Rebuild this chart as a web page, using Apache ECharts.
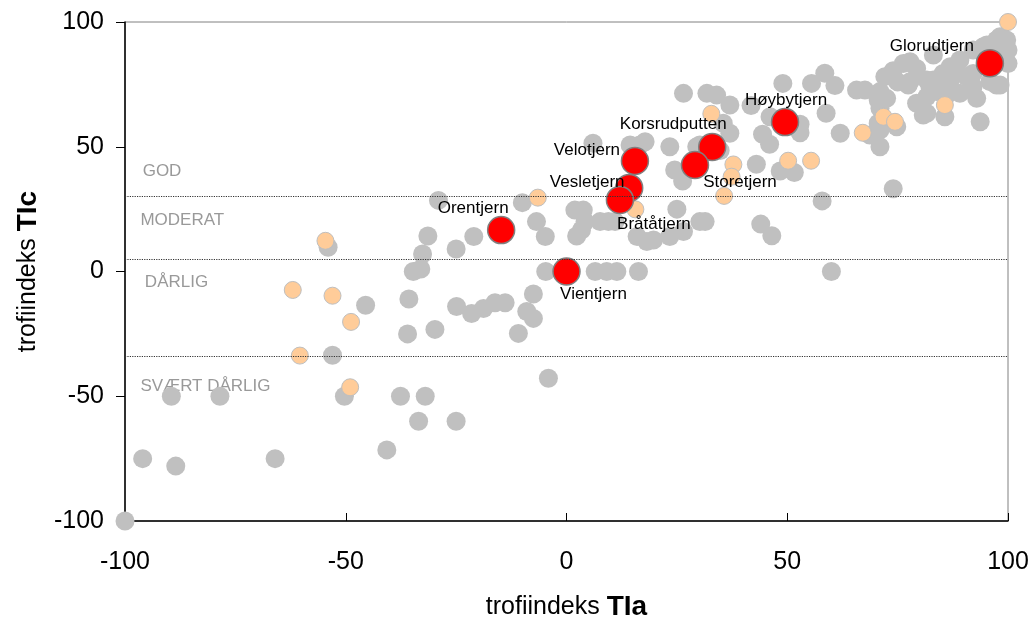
<!DOCTYPE html>
<html>
<head>
<meta charset="utf-8">
<script src="https://cdn.jsdelivr.net/npm/echarts@6/dist/echarts.min.js"></script>
<style>html,body{margin:0;padding:0;background:#fff;}#c{width:1030px;height:619px;}</style>
</head>
<body>
<div id="c"></div>
<script>
// Axis ticks
const xTicks = [-100, -50, 0, 50, 100];
const yTicks = [-100, -50, 0, 50, 100];

// Class boundaries (TIc) and class names
const boundaries = [30, 5, -34];
const zoneNames = ['GOD', 'MODERAT', 'DÅRLIG', 'SVÆRT DÅRLIG'];
const zoneLabelX = [-96, -96.5, -95.5, -96.5];
const zoneLabelY = [40, 20.5, -4.3, -46];

// Other lakes (grey)
const greyTIa = [
  -100,-96,-88.5,-66,-89.5,-78.5,-50.3,-37.6,-32,-33.5,-25,-40.7,
  -53,-36,-29.8,-45.5,-35.7,
  -54,-29,-31.4,-32.6,-34.7,-33,
  -25,-21,-10,-6.8,-4.8,
  -24.9,-21.5,-18.8,-16.2,-13.9,-7.5,-9,-7.5,-10.9,-4.1,
  -4.7,6.5,9.1,11.4,16.3,60,
  1.9,3.8,4.2,2.3,3.4,7.6,9.5,11,
  16,18.2,19.7,23.4,26.5,25,30.2,31.4,
  44,46.5,57.9,74,
  6,14.4,16.6,17.8,23.4,24.5,26.3,29.5,30.2,
  26.5,31.8,34,37,41.8,35.5,37,34.8,
  43,48.4,51.6,44.4,46,46.1,52.9,52.9,
  49,55.5,58.5,60.8,65.7,58.8,62,71,
  67.6,71,72.1,74,76.3,77.8,79.3,77.4,81.6,83.1,85.3,86.9,83.1,89.1,90.6,92.1,92.1,92.9,89.1,86.1,81.6,83.8,79.3,81.6,85.7,93.7,97.4,97.4,99.7,100,100,94.4,92.1,71,70.6,74.8,71,72.5,70.6,68.7,77.8,82.3,84.6,88.4,95.9,98.2,80.8,95.2,96.7,98.2,75,87
];
const greyTIc = [
  -100,-75,-78,-75,-50,-50,-50,-50,-50,-60,-60,-71.5,
  -33.6,-25,-23.2,-13.5,-11,
  9.7,28.5,14.2,7,0,1,
  9,14,27.6,20,14,
  -14,-16.8,-14.8,-12.5,-12.5,-9,-16,-18.8,-24.8,-42.8,
  0,0,0,0,0,0,
  24.6,24.6,20,14.2,16.6,20,20,20,
  14,12,12.6,14,16,25,20,20,
  19,14.3,28.3,33.2,
  51.4,50.7,50.7,52,50,40.7,36.3,50,50.7,
  71.4,71.4,70.7,66.7,66.5,59.4,55.4,48.5,
  43,40.3,39.7,55,51,62,59,55.6,
  75.4,75.4,79.5,74.5,72.7,63.4,55.4,50,
  72.7,72.1,78.1,80.5,83.4,84.1,81.4,74.7,76.8,76.8,79.4,82.1,86.8,84.8,78.1,79.4,74.1,69.4,71.4,70.7,70,72.1,67.4,63.4,62,60,74.7,92.8,92.8,88.8,83.4,90.1,88.8,65.4,68.7,58,56.7,69.4,59.4,54.7,76.1,74.1,75.4,80.8,76.1,74.7,62.7,90.8,88.8,94.1,76,77
];

// Lakes (orange)
const orangeTIa = [-62,-53,-48.8,-60.4,-49,-54.6,-6.5,15.6,32.8,37.8,37.4,35.7,50.2,55.4,67.1,71.8,74.4,85.7,100];
const orangeTIc = [-7.4,-9.7,-20.2,-33.7,-46.4,12.3,29.6,24.9,63.2,42.9,38,30.3,44.4,44.4,55.6,62,60,66.7,100];

// Named lakes (red)
const lakeNames = ['Glorudtjern','Høybytjern','Korsrudputten','Storetjern','Velotjern','Vesletjern','Bråtåtjern','Orentjern','Vientjern'];
const lakeTIa = [95.9, 49.5, 33, 29.1, 15.5, 14.2, 12.1, -14.8, 0];
const lakeTIc = [83.5, 59.9, 49.9, 42.7, 44.3, 33.5, 28.7, 16.6, 0];

// label placement (style only)
const labelOffset = {
  'Glorudtjern':[-58,-17], 'Høybytjern':[1,-22], 'Korsrudputten':[-39,-23], 'Storetjern':[45,17],
  'Velotjern':[-48,-11], 'Vesletjern':[-42,-6], 'Bråtåtjern':[34,24], 'Orentjern':[-28,-22], 'Vientjern':[27,23]
};

const zip = (a, b) => a.map((v, i) => [v, b[i]]);
const FONT = 'Liberation Sans, Arial, sans-serif';
const titleRich = {
  a: {fontSize: 25, fontFamily: FONT, color: '#000'},
  b: {fontSize: 28, fontWeight: 'bold', fontFamily: FONT, color: '#000'}
};

const chart = echarts.init(document.getElementById('c'), null, {renderer: 'canvas'});
chart.setOption({
  animation: false,
  backgroundColor: '#fff',
  grid: {left: 125, right: 22, top: 22, bottom: 98, show: true, borderColor: '#808080', borderWidth: 1, backgroundColor: 'transparent', outerBoundsMode: 'none', containLabel: false},
  xAxis: {
    type: 'value', min: xTicks[0], max: xTicks[xTicks.length-1], interval: 50,
    axisLine: {show: true, onZero: false, lineStyle: {color: '#000', width: 1.5}},
    axisTick: {show: true, inside: true, length: 8, lineStyle: {color: '#000'}},
    splitLine: {show: false},
    axisLabel: {color: '#000', fontSize: 25, fontFamily: FONT, margin: 29},
    name: '{a|trofiindeks }{b|TIa}', nameLocation: 'middle', nameGap: 72,
    nameTextStyle: {rich: titleRich}
  },
  yAxis: {
    type: 'value', min: yTicks[0], max: yTicks[yTicks.length-1], interval: 50,
    axisLine: {show: true, onZero: false, lineStyle: {color: '#000', width: 1.5}},
    axisTick: {show: true, inside: false, length: 9, lineStyle: {color: '#000'}},
    splitLine: {show: false},
    axisLabel: {color: '#000', fontSize: 25, fontFamily: FONT, margin: 21},
    name: '{a|trofiindeks }{b|TIc}', nameLocation: 'middle', nameGap: 83, nameRotate: 90,
    nameTextStyle: {rich: titleRich}
  },
  series: [
    {
      type: 'scatter', name: 'grey', data: zip(greyTIa, greyTIc), symbolSize: 19,
      itemStyle: {color: '#C0C0C0', opacity: 1}, z: 2, silent: true,
      markLine: {
        silent: true, symbol: 'none', animation: false,
        lineStyle: {type: [1.2, 1.2], color: '#333', width: 1},
        label: {show: false},
        data: boundaries.map(v => ({yAxis: v}))
      }
    },
    {
      type: 'scatter', name: 'zones', z: 1, symbolSize: 0, silent: true,
      data: zoneNames.map((n, i) => ({name: n, value: [zoneLabelX[i], zoneLabelY[i]]})),
      label: {show: true, position: 'inside', align: 'left', verticalAlign: 'middle', formatter: p => p.name, color: '#808080', fontSize: 17, fontFamily: FONT}
    },
    {
      type: 'scatter', name: 'orange', data: zip(orangeTIa, orangeTIc), symbolSize: 17,
      itemStyle: {color: '#FFCC99', borderColor: '#BFBFBF', borderWidth: 1, opacity: 1}, z: 3, silent: true
    },
    {
      type: 'scatter', name: 'lakes', symbolSize: 27, z: 4, silent: true,
      itemStyle: {color: '#FF0000', borderColor: '#808080', borderWidth: 1.5, opacity: 1},
      data: lakeNames.map((n, i) => ({
        name: n, value: [lakeTIa[i], lakeTIc[i]],
        label: {show: true, position: 'inside', offset: labelOffset[n], formatter: n, color: '#000', fontSize: 17, fontFamily: FONT}
      }))
    }
  ]
});
</script>
</body>
</html>
